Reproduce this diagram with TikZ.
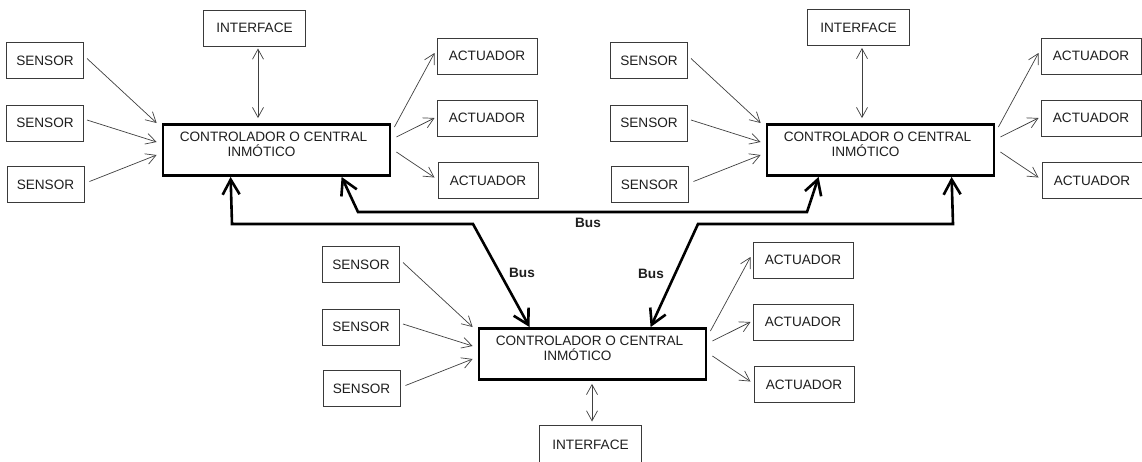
\documentclass[tikz,border=0pt]{standalone}
\usepackage{fontspec}
\setmainfont{Liberation Sans}
\usetikzlibrary{arrows.meta,calc}

\definecolor{boxgray}{HTML}{3A3A3A}
\definecolor{linegray}{HTML}{404040}
\definecolor{txt}{HTML}{1E1E1E}

\tikzset{
  lbl/.style={font=\fontsize{13.6}{15}\selectfont, text=txt},
  box/.style={lbl, draw=boxgray, line width=1pt, minimum height=36pt, inner sep=0pt},
  sensorbox/.style={box, minimum width=77pt},
  actbox/.style={box, minimum width=100pt},
  ifacebox/.style={box, minimum width=102pt},
  ctrlbox/.style={draw=black, line width=2.8pt, minimum width=227pt, minimum height=51pt, inner sep=0pt},
  ctrltext/.style={lbl, align=center, inner sep=0pt},
  link/.style={draw=linegray, line width=0.7pt, -{Straight Barb[length=10pt,width=11pt]}},
  duplex/.style={draw=linegray, line width=0.7pt, {Straight Barb[length=10pt,width=11pt]}-{Straight Barb[length=10pt,width=11pt]}},
  bus/.style={draw=black, line width=2.6pt, line join=miter,
    {Straight Barb[length=15pt,width=17pt]}-{Straight Barb[length=15pt,width=17pt]}},
  buslabel/.style={font=\fontsize{13.6}{15}\selectfont\bfseries, text=txt, inner sep=0pt},
}

% One control unit: three sensors, the controller and three actuators
\newcommand\unidad[3]{%
  \begin{scope}[shift={(#2,#3)}, name prefix=#1-]
    \node[sensorbox] (s1) at (45,60.5) {SENSOR};
    \node[sensorbox] (s2) at (45,123) {SENSOR};
    \node[sensorbox] (s3) at (45.5,184.5) {SENSOR};
    \node[ctrlbox] (ctrl) at (276.5,150) {};
    \node[ctrltext] (ctrlt) at ($(ctrl.center)+(-3,-6)$)
      {CONTROLADOR O CENTRAL\\INMÓTICO\hspace*{24pt}};
    \node[actbox] (a1) at (487,56) {ACTUADOR};
    \node[actbox] (a2) at (487,118) {ACTUADOR};
    \node[actbox] (a3) at (488,180.5) {ACTUADOR};
    \draw[link] ($(s1.east)+(3,-2)$) -- ($(ctrl.west)+(-5,-27)$);
    \draw[link] ($(s2.east)+(3,-3)$) -- ($(ctrl.west)+(-5,-8)$);
    \draw[link] ($(s3.east)+(5,-3)$) -- ($(ctrl.west)+(-5,5)$);
    \draw[link] ($(ctrl.east)+(3,-23)$) -- ($(a1.west)+(-2,-3)$);
    \draw[link] ($(ctrl.east)+(5,-13)$) -- ($(a2.west)+(-2,0)$);
    \draw[link] ($(ctrl.east)+(5,2)$) -- ($(a3.west)+(-3,-3)$);
  \end{scope}}

\begin{document}
\begin{tikzpicture}[x=1pt,y=-1pt]
  \fill[white] (0,0) rectangle (1142,461);
  \useasboundingbox (0,0) rectangle (1142,461);
  \clip (0,0) rectangle (1142,461);

  \unidad{L}{0}{0}
  \unidad{R}{604}{0}
  \unidad{B}{316}{204}

  % user interfaces
  \node[ifacebox] (L-if) at (254.5,28) {INTERFACE};
  \node[ifacebox] (R-if) at (858.5,27.5) {INTERFACE};
  \node[ifacebox, minimum height=40pt] (B-if) at (590.5,445) {INTERFACE};
  \draw[duplex] ($(L-if.south)+(3.5,2)$) -- ($(L-ctrl.north)+(-18.5,-5)$);
  \draw[duplex] ($(R-if.south)+(3.5,2)$) -- ($(R-ctrl.north)+(-18.5,-5)$);
  \draw[duplex] ($(B-ctrl.south)+(-0.5,3)$) -- ($(B-if.north)+(1.5,-3)$);

  % bus lines between the controllers
  \coordinate (b1) at (232,224);
  \coordinate (b2) at (473,224);
  \coordinate (b3) at (698,224);
  \coordinate (b4) at (953,224);
  \coordinate (b5) at (358,212);
  \coordinate (b6) at (807,212);
  \draw[bus] ($(L-ctrl.south west)+(69,0)$) -- (b1) -- (b2) -- ($(B-ctrl.north west)+(52,0)$);
  \draw[bus] ($(B-ctrl.north west)+(173,0)$) -- (b3) -- (b4) -- ($(R-ctrl.south west)+(186,0)$);
  \draw[bus] ($(L-ctrl.south west)+(180,0)$) -- (b5) -- (b6) -- ($(R-ctrl.south west)+(53,0)$);

  \node[buslabel] (bus1) at (588,223) {Bus};
  \node[buslabel] (bus2) at (522,273) {Bus};
  \node[buslabel] (bus3) at (651,274) {Bus};
\end{tikzpicture}
\end{document}
